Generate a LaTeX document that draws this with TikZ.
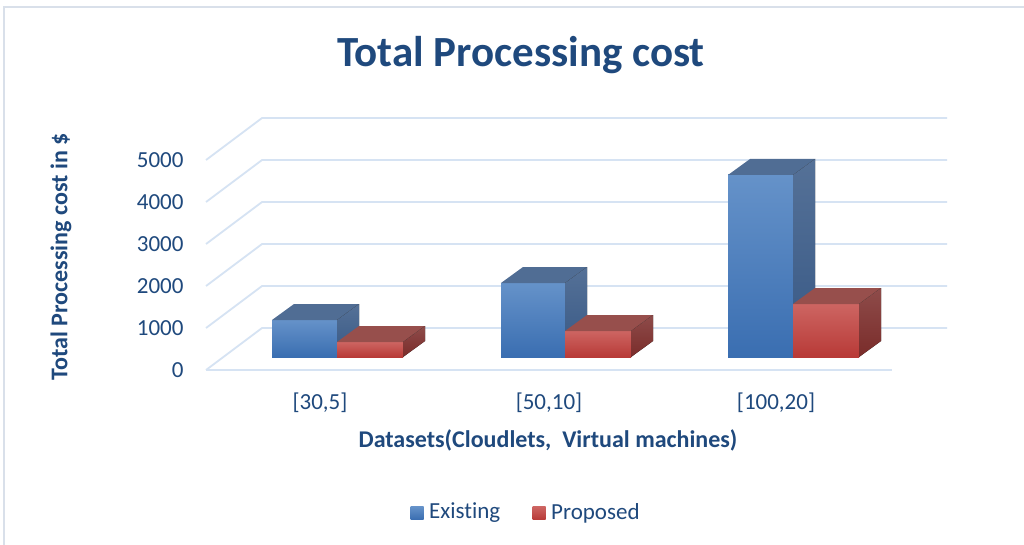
\documentclass[tikz,border=0pt]{standalone}
\usepackage{fontspec}
\setmainfont{Carlito}[Ligatures=NoCommon]
\usetikzlibrary{positioning}
\definecolor{ink}{RGB}{31,73,125}
\definecolor{gridc}{RGB}{214,227,243}
\definecolor{framec}{RGB}{217,224,234}
\definecolor{bluetop}{RGB}{101,146,201}
\definecolor{bluebot}{RGB}{58,110,177}
\definecolor{blueroof}{RGB}{80,109,148}
\definecolor{blueside}{RGB}{55,88,133}
\definecolor{redtop}{RGB}{205,101,98}
\definecolor{redbot}{RGB}{184,58,55}
\definecolor{redroof}{RGB}{151,79,76}
\definecolor{redside}{RGB}{122,44,42}

\newcommand{\drawbar}[4]{%
  \fill[top color=#4top, bottom color=#4bot] (#1,#3) rectangle (#2,357);
  \fill[#4roof] (#1,#3) -- (#2,#3) -- ++(22,-16) -- ++(#1-#2,0) -- cycle;
  \fill[top color=#4side!85!white, bottom color=#4side] (#2,#3) -- ++(22,-16) -- (#2+22,341) -- (#2,357) -- cycle;
}

\begin{document}
\begin{tikzpicture}[x=1pt, y=-1pt,
  grid/.style = {draw=gridc, line width=1.8pt},
  tick/.style = {text=ink, font=\fontsize{23}{27}\selectfont},
  axistitle/.style = {text=ink, font=\fontsize{24}{28}\selectfont\bfseries},
  key/.style = {minimum size=13pt, inner sep=0pt}]
	\useasboundingbox (0,0) rectangle (1024,545);
	\fill[white] (0,0) rectangle (1024,545);
	\draw[framec, line width=1.5pt] (4,545) -- (4,7) -- (1024,7);
	\node[text=ink, font=\fontsize{43}{50}\selectfont\bfseries] (title) at (521,55) {Total Processing cost};
	\foreach \v [count=\k from 0] in {0,1000,2000,3000,4000,5000} {
		\draw[grid] (206,370-42*\k) -- (262,328-42*\k) -- (947,328-42*\k);
		\node[tick, anchor=east] (y\k) at (187,370-42*\k) {\v};
	}
	\draw[grid] (206,370) -- (892,370);
	\drawbar{272}{337}{320}{blue}
	\drawbar{337}{403}{342}{red}
	\drawbar{501}{565}{283}{blue}
	\drawbar{565}{631}{331}{red}
	\drawbar{728}{793}{175}{blue}
	\drawbar{793}{859}{304}{red}
	\node[tick] (x1) at (320,403) {[30,5]};
	\node[tick] (x2) at (549,403) {[50,10]};
	\node[tick] (x3) at (776,403) {[100,20]};
	\node[axistitle] (xtitle) at (548,440) {Datasets(Cloudlets,\ \ Virtual machines)};
	\node[axistitle, rotate=90] (ytitle) at (61,257) {Total Processing cost in \$};
	\node[key, top color=bluetop, bottom color=bluebot] (keyA) at (417,513) {};
	\node[tick, right=2pt of keyA] (lblA) {Existing};
	\node[key, top color=redtop, bottom color=redbot] (keyB) at (539,513) {};
	\node[tick, right=2pt of keyB] (lblB) {Proposed};
\end{tikzpicture}
\end{document}
